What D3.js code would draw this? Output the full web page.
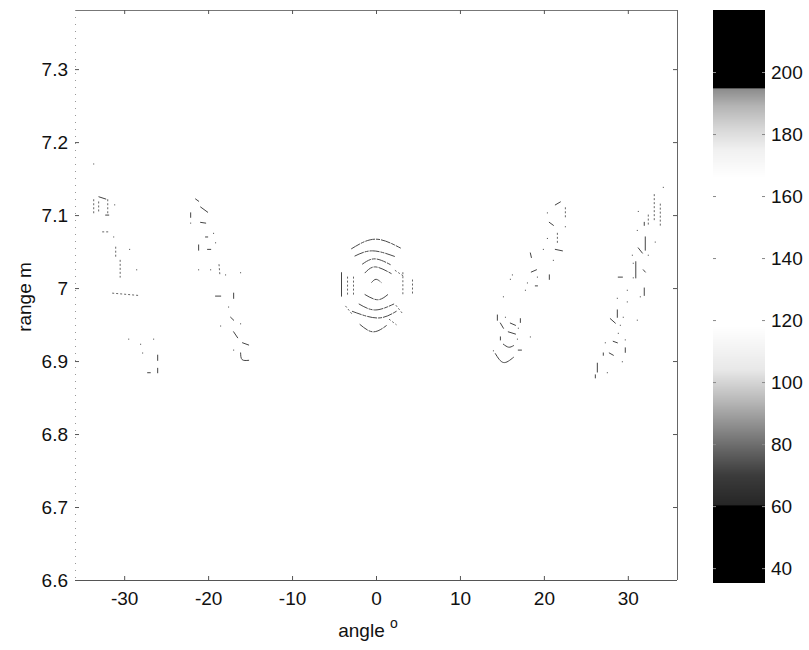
<!DOCTYPE html>
<html>
<head>
<meta charset="utf-8">
<script src="https://cdn.jsdelivr.net/npm/d3@7"></script>
<style>
  body { margin: 0; background: #fff; }
  text { font-family: "Liberation Sans", Arial, sans-serif; fill: #111; }
</style>
</head>
<body>
<svg id="chart" width="809" height="650"></svg>
<script>
// ---- axis ticks ----
const angleTicks = [-30, -20, -10, 0, 10, 20, 30];
const rangeTicks = [6.6, 6.7, 6.8, 6.9, 7.0, 7.1, 7.2, 7.3];
const levelTicks = [40, 60, 80, 100, 120, 140, 160, 180, 200];

// ---- grey colour map (level -> grey) ----
const cmapLevels = [35, 60, 60.5, 70, 78, 86, 94, 104, 118, 166, 175, 182, 189, 194.5, 195, 220];
const cmapGrays  = ["#000", "#000", "#262626", "#3c3c3c", "#646464", "#8e8e8e", "#b8b8b8", "#e8e8e8",
                    "#ffffff", "#ffffff", "#f0f0f0", "#d6d6d6", "#b4b4b4", "#8c8c8c", "#000", "#000"];

// ---- central target: contour rings, [angle, range] points ----
const ringArcs = [
  [[-2.9, 7.054], [-0.1, 7.067], [2.9, 7.055]],
  [[-2.5, 7.044], [-0.4, 7.051], [2.3, 7.043]],
  [[-1.6, 7.033], [-0.1, 7.040], [1.9, 7.031]],
  [[-1.3, 7.021], [-0.1, 7.029], [1.8, 7.020]],
  [[-0.5, 7.008], [0.0, 7.012], [0.6, 7.008]],
  [[-1.3, 6.991], [0.2, 6.984], [1.4, 6.991]],
  [[-2.0, 6.978], [-0.1, 6.970], [2.1, 6.978]],
  [[-2.8, 6.968], [0.2, 6.959], [2.4, 6.968]],
  [[-1.9, 6.950], [-0.3, 6.940], [1.4, 6.950]]
];
// ring fragments: [a0, r0, a1, r1, dotted]
const ringMarks = [
  [-4.11, 7.021, -4.11, 6.989, 0],
  [-3.39, 7.015, -3.39, 6.988, 1],
  [-2.68, 7.015, -2.68, 6.988, 1],
  [3.2, 7.021, 3.2, 6.990, 1],
  [4.35, 7.011, 4.35, 6.993, 1],
  [2.3, 7.024, 3.2, 7.017, 1],
  [-3.6, 6.975, -2.9, 6.965, 1],
  [2.4, 6.976, 3.1, 6.966, 1],
  [1.6, 6.957, 2.4, 6.950, 1]
];

// ---- sidelobe streaks: [a0, r0, a1, r1, dotted] (a single point when both ends match) ----
const lobeLeftOuter = [
  [-33.63, 7.170, -33.63, 7.170, 0],
  [-33.0, 7.125, -32.2, 7.122, 0],
  [-33.63, 7.121, -33.63, 7.103, 1],
  [-33.04, 7.118, -33.04, 7.104, 1],
  [-31.96, 7.121, -31.96, 7.100, 1],
  [-31.13, 7.114, -31.13, 7.114, 0],
  [-32.2, 7.100, -31.85, 7.100, 0],
  [-32.56, 7.077, -31.85, 7.077, 1],
  [-31.25, 7.070, -31.25, 7.070, 0],
  [-31.01, 7.056, -31.01, 7.042, 1],
  [-29.35, 7.053, -29.35, 7.053, 0],
  [-30.48, 7.038, -30.48, 7.015, 1],
  [-28.51, 7.025, -28.51, 7.025, 0],
  [-31.37, 6.993, -28.39, 6.990, 1],
  [-29.46, 6.930, -29.46, 6.930, 0],
  [-28.04, 6.923, -28.04, 6.923, 0],
  [-26.49, 6.930, -26.49, 6.930, 0],
  [-27.80, 6.911, -27.80, 6.911, 0],
  [-26.01, 6.908, -26.01, 6.901, 0],
  [-27.20, 6.884, -26.9, 6.884, 0],
  [-26.01, 6.890, -26.01, 6.884, 0]
];
const lobeLeftInner = [
  [-21.49, 7.122, -21.13, 7.119, 0],
  [-20.89, 7.111, -20.06, 7.104, 0],
  [-22.08, 7.103, -22.08, 7.097, 0],
  [-20.89, 7.090, -20.30, 7.089, 0],
  [-22.08, 7.089, -22.08, 7.089, 0],
  [-19.35, 7.075, -19.35, 7.075, 0],
  [-20.30, 7.070, -20.06, 7.070, 0],
  [-19.11, 7.062, -19.11, 7.062, 0],
  [-21.13, 7.059, -21.13, 7.052, 0],
  [-20.06, 7.053, -19.70, 7.053, 0],
  [-18.70, 7.032, -18.60, 7.018, 1],
  [-21.13, 7.025, -21.13, 7.025, 0],
  [-19.70, 7.025, -19.70, 7.025, 0],
  [-17.92, 7.018, -17.92, 7.018, 0],
  [-16.13, 7.021, -16.13, 7.021, 0],
  [-19.11, 6.989, -18.51, 6.989, 0],
  [-16.96, 6.993, -16.96, 6.986, 0],
  [-17.56, 6.974, -17.56, 6.974, 0],
  [-17.32, 6.960, -16.96, 6.956, 0],
  [-16.13, 6.951, -16.13, 6.951, 0],
  [-18.51, 6.948, -18.51, 6.948, 0],
  [-16.96, 6.940, -16.49, 6.932, 0],
  [-15.89, 6.925, -15.18, 6.922, 0],
  [-16.96, 6.915, -16.96, 6.915, 0]
];
const lobeRightInner = [
  [21.37, 7.114, 21.96, 7.118, 0],
  [22.56, 7.110, 22.56, 7.096, 1],
  [20.42, 7.103, 20.42, 7.103, 0],
  [20.65, 7.090, 21.13, 7.086, 0],
  [22.56, 7.084, 22.56, 7.084, 0],
  [21.61, 7.075, 21.61, 7.062, 1],
  [20.42, 7.068, 20.42, 7.068, 0],
  [19.94, 7.053, 19.94, 7.053, 0],
  [21.37, 7.053, 22.20, 7.051, 0],
  [18.39, 7.048, 18.51, 7.042, 0],
  [21.13, 7.038, 21.13, 7.038, 0],
  [18.51, 7.022, 19.11, 7.025, 0],
  [16.25, 7.018, 16.25, 7.018, 0],
  [19.23, 7.015, 19.23, 7.015, 0],
  [20.65, 7.018, 20.65, 7.012, 0],
  [16.01, 7.012, 16.01, 7.012, 0],
  [18.04, 7.007, 18.04, 7.007, 0],
  [18.99, 7.003, 19.23, 7.003, 0],
  [17.80, 6.997, 17.80, 6.997, 0],
  [15.18, 6.988, 15.18, 6.988, 0],
  [14.46, 6.963, 14.46, 6.956, 0],
  [14.82, 6.952, 15.18, 6.945, 0],
  [15.42, 6.960, 15.42, 6.960, 0],
  [16.01, 6.952, 16.61, 6.949, 0],
  [17.20, 6.958, 17.20, 6.953, 0],
  [16.96, 6.945, 16.96, 6.945, 0],
  [15.77, 6.940, 16.61, 6.937, 0],
  [14.82, 6.933, 14.82, 6.929, 0],
  [18.39, 6.933, 18.39, 6.933, 0],
  [16.85, 6.930, 16.85, 6.930, 0],
  [13.99, 6.914, 13.99, 6.914, 0],
  [16.96, 6.915, 17.32, 6.915, 0]
];
const lobeRightOuter = [
  [34.23, 7.138, 34.23, 7.138, 0],
  [33.15, 7.128, 33.15, 7.090, 1],
  [33.87, 7.115, 33.87, 7.084, 1],
  [31.25, 7.105, 31.25, 7.105, 0],
  [32.44, 7.100, 32.44, 7.084, 1],
  [31.96, 7.090, 31.96, 7.086, 0],
  [31.13, 7.079, 31.13, 7.079, 0],
  [33.27, 7.063, 33.27, 7.063, 0],
  [32.08, 7.070, 32.08, 7.052, 0],
  [31.25, 7.055, 31.73, 7.048, 0],
  [30.54, 7.045, 30.54, 7.045, 0],
  [32.44, 7.045, 32.44, 7.045, 0],
  [30.95, 7.036, 30.95, 7.014, 0],
  [30.65, 7.034, 30.65, 7.034, 0],
  [31.85, 7.025, 32.08, 7.022, 0],
  [28.87, 7.015, 29.35, 7.015, 0],
  [30.65, 7.014, 30.65, 7.014, 0],
  [31.96, 7.000, 31.96, 6.990, 0],
  [29.94, 6.997, 29.94, 6.997, 0],
  [31.49, 6.988, 31.49, 6.988, 0],
  [28.75, 6.986, 28.75, 6.986, 0],
  [29.94, 6.981, 29.94, 6.981, 0],
  [28.75, 6.970, 28.75, 6.960, 0],
  [29.46, 6.960, 29.46, 6.960, 0],
  [27.92, 6.958, 28.51, 6.952, 0],
  [31.13, 6.956, 31.13, 6.956, 0],
  [29.11, 6.949, 29.11, 6.949, 0],
  [28.87, 6.938, 28.87, 6.938, 0],
  [28.27, 6.927, 28.75, 6.925, 0],
  [27.32, 6.925, 27.32, 6.925, 0],
  [29.70, 6.929, 29.70, 6.929, 0],
  [29.70, 6.918, 29.70, 6.912, 0],
  [27.08, 6.911, 27.08, 6.908, 0],
  [27.80, 6.911, 28.27, 6.908, 0],
  [29.35, 6.899, 29.35, 6.899, 0],
  [26.37, 6.897, 26.37, 6.885, 0],
  [27.56, 6.884, 27.56, 6.884, 0],
  [26.13, 6.881, 26.13, 6.877, 0]
];
// curved pieces within the streaks, [angle, range] points
const lobeCurves = [
  [[-16.13, 6.911], [-15.95, 6.902], [-15.18, 6.901]],
  [[15.18, 6.923], [15.8, 6.919], [16.37, 6.921]],
  [[14.23, 6.910], [15.18, 6.898], [16.37, 6.905]]
];

// ---- layout ----
const svg = d3.select("#chart");
const plot = { left: 75, right: 677, top: 10, bottom: 580 };
const bar = { left: 713, right: 765, top: 10, bottom: 583 };

const x = d3.scaleLinear().domain([-35.86, 35.86]).range([plot.left, plot.right]);
const y = d3.scaleLinear().domain([6.6, 7.381]).range([plot.bottom, plot.top]);
const cy = d3.scaleLinear().domain([35.2, 220]).range([bar.bottom, bar.top]);
const gray = d3.scaleLinear().domain(cmapLevels).range(cmapGrays).interpolate(d3.interpolateRgb);

const fontSize = "19px";

// ---- contour marks ----
const marks = svg.append("g").attr("fill", "none").attr("stroke-linecap", "square");
const curve = d3.line().x(d => x(d[0])).y(d => y(d[1])).curve(d3.curveNatural);

marks.selectAll("path.ring").data(ringArcs).join("path")
  .attr("class", "ring")
  .attr("d", curve)
  .attr("stroke", "#4a4a4a").attr("stroke-width", 1)
  .attr("stroke-dasharray", "9,2,3,2");

marks.selectAll("path.lobecurve").data(lobeCurves).join("path")
  .attr("class", "lobecurve")
  .attr("d", curve)
  .attr("stroke", "#444").attr("stroke-width", 1);

const segs = [].concat(ringMarks, lobeLeftOuter, lobeLeftInner, lobeRightInner, lobeRightOuter);
marks.selectAll("line.seg").data(segs).join("line")
  .attr("class", "seg")
  .attr("x1", d => x(d[0])).attr("y1", d => y(d[1]))
  .attr("x2", d => x(d[2])).attr("y2", d => y(d[3]))
  .attr("stroke", d => d[4] ? "#666" : "#444")
  .attr("stroke-width", 1)
  .attr("stroke-dasharray", d => d[4] ? "1,3" : null);

// ---- axes box ----
const frame = svg.append("g").attr("stroke-width", 1).attr("shape-rendering", "crispEdges");
frame.append("line").attr("x1", plot.left).attr("x2", plot.right).attr("y1", plot.bottom).attr("y2", plot.bottom).attr("stroke", "#555");
frame.append("line").attr("x1", plot.left).attr("x2", plot.right).attr("y1", plot.top).attr("y2", plot.top).attr("stroke", "#777");
frame.append("line").attr("x1", plot.right).attr("x2", plot.right).attr("y1", plot.top).attr("y2", plot.bottom).attr("stroke", "#666");
frame.append("line").attr("x1", plot.left).attr("x2", plot.left).attr("y1", plot.top).attr("y2", plot.bottom)
  .attr("stroke", "#999").attr("stroke-dasharray", "1,6");

// tick marks point inward
function styleAxis(g) {
  g.select(".domain").remove();
  g.selectAll(".tick line").attr("stroke", "#555");
  g.selectAll(".tick text").attr("font-size", fontSize).attr("fill", "#111")
    .attr("font-family", "Liberation Sans, Arial, sans-serif");
}

svg.append("g").attr("transform", `translate(0,${plot.bottom})`)
  .call(d3.axisBottom(x).tickValues(angleTicks).tickSizeInner(-4).tickSizeOuter(0).tickPadding(12).tickFormat(d => String(d)))
  .call(styleAxis);
svg.append("g").attr("transform", `translate(0,${plot.top})`)
  .call(d3.axisTop(x).tickValues(angleTicks).tickSizeInner(-4).tickSizeOuter(0).tickFormat(""))
  .call(styleAxis);
svg.append("g").attr("transform", `translate(${plot.left},0)`)
  .call(d3.axisLeft(y).tickValues(rangeTicks).tickSizeInner(-4).tickSizeOuter(0).tickPadding(7).tickFormat(d => d === 7 ? "7" : d.toFixed(1)))
  .call(styleAxis);
svg.append("g").attr("transform", `translate(${plot.right},0)`)
  .call(d3.axisRight(y).tickValues(rangeTicks).tickSizeInner(-4).tickSizeOuter(0).tickFormat(""))
  .call(styleAxis);

// axis titles
const xt = svg.append("text")
  .attr("x", 368).attr("y", 637).attr("text-anchor", "middle").attr("font-size", fontSize);
xt.append("tspan").text("angle ");
xt.append("tspan").text("o").attr("font-size", "14px").attr("dy", "-9");

svg.append("text")
  .attr("transform", "translate(31,297) rotate(-90)")
  .attr("text-anchor", "middle").attr("font-size", fontSize)
  .text("range m");

// ---- colour bar ----
const barRows = d3.range(bar.top, bar.bottom);
svg.append("g").selectAll("rect").data(barRows).join("rect")
  .attr("x", bar.left).attr("width", bar.right - bar.left)
  .attr("y", d => d).attr("height", 1)
  .attr("fill", d => gray(cy.invert(d + 0.5)))
  .attr("shape-rendering", "crispEdges");

svg.append("g").attr("transform", `translate(${bar.right},0)`)
  .call(d3.axisRight(cy).tickValues(levelTicks).tickSizeInner(-3).tickSizeOuter(0).tickPadding(6).tickFormat(d => String(d)))
  .call(g => {
    g.select(".domain").remove();
    g.selectAll(".tick line").attr("stroke", "#888");
    g.selectAll(".tick text").attr("font-size", fontSize).attr("fill", "#111")
      .attr("font-family", "Liberation Sans, Arial, sans-serif");
  });
svg.append("g").attr("transform", `translate(${bar.left},0)`)
  .call(d3.axisLeft(cy).tickValues(levelTicks).tickSizeInner(-3).tickSizeOuter(0).tickFormat(""))
  .call(g => { g.select(".domain").remove(); g.selectAll(".tick line").attr("stroke", "#888"); });
</script>
</body>
</html>
